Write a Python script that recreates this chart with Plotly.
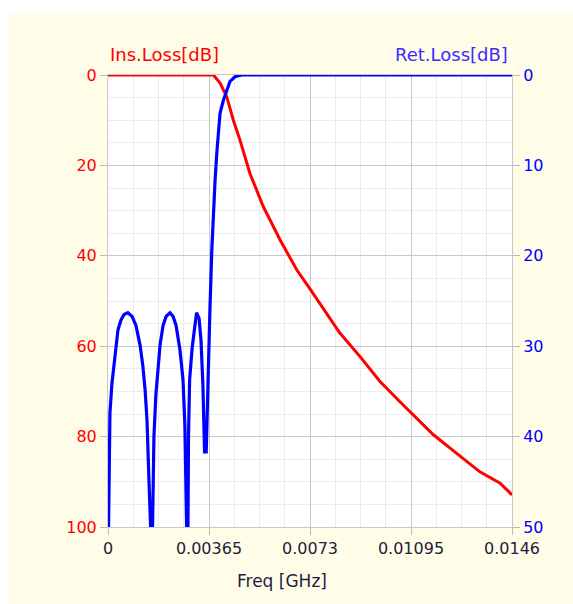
import plotly.graph_objects as go

# Return loss (blue, right axis, dB)
ret_freq = [0.00002, 0.00005, 0.00007, 0.00014, 0.00021, 0.00029, 0.00036, 0.00047, 0.00058, 0.00072,
            0.00087, 0.00101, 0.00116, 0.00126, 0.00134, 0.00141, 0.00148, 0.00154, 0.00161, 0.00166,
            0.00173, 0.00181, 0.00188, 0.00199, 0.00210, 0.00224, 0.00235, 0.00246, 0.00260, 0.00271,
            0.00278, 0.00284, 0.00289, 0.00291, 0.00295, 0.00304, 0.00311, 0.00320, 0.00329, 0.00336,
            0.00343, 0.00349, 0.00355, 0.00360, 0.00368, 0.00375, 0.00381, 0.00387, 0.00393, 0.00399,
            0.00405, 0.00417, 0.00429, 0.00441, 0.00459, 0.00483, 0.0146]
ret_loss = [50, 43.4, 37.4, 34.2, 31.9, 30.1, 28.2, 27.1, 26.5, 26.3,
            26.7, 27.7, 29.9, 32.2, 34.8, 38.2, 44.8, 50, 50, 40.0,
            35.4, 32.1, 29.9, 27.7, 26.7, 26.3, 26.7, 27.7, 30.4, 33.7,
            38.9, 50, 50, 39.8, 33.7, 30.2, 28.2, 26.3, 26.9, 29.3,
            34.3, 41.7, 41.7, 34.1, 26.3, 19.5, 15.1, 11.6, 8.7, 6.4,
            4.2, 2.8, 1.7, 0.7, 0.2, 0, 0]

# Insertion loss (red, left axis, dB)
ins_freq = [0.0, 0.00381, 0.00405, 0.00429, 0.00453, 0.00477, 0.00513, 0.00561, 0.00622, 0.00682,
            0.00733, 0.00790, 0.00838, 0.00911, 0.00983, 0.01055, 0.01096, 0.01176, 0.01260, 0.01344,
            0.01417, 0.01460]
ins_loss = [0, 0, 1.8, 4.8, 10.0, 14.4, 21.8, 29.1, 36.5, 43.1,
            47.6, 52.7, 57.1, 62.3, 67.8, 72.3, 74.8, 79.6, 83.7, 87.8,
            90.3, 92.9]

x_ticks = [0, 0.00365, 0.0073, 0.01095, 0.0146]
x_ticktext = ["0", "0.00365", "0.0073", "0.01095", "0.0146"]
left_ticks = [0, 20, 40, 60, 80, 100]
right_ticks = [0, 10, 20, 30, 40, 50]

FONT = "DejaVu Sans"
CREAM = "#FFFDE8"
MAJ = "#C8C8C8"
MIN = "#EBEBEB"

fig = go.Figure()
fig.add_trace(go.Scatter(x=ins_freq, y=ins_loss, mode="lines",
                         line=dict(color="#FF0000", width=3), yaxis="y"))
fig.add_trace(go.Scatter(x=ret_freq, y=ret_loss, mode="lines",
                         line=dict(color="#0000FF", width=3.2), yaxis="y2"))

fig.update_layout(
    width=573, height=604,
    margin=dict(l=108, r=61, t=75, b=77),
    paper_bgcolor="white", plot_bgcolor="white",
    showlegend=False,
    font=dict(family=FONT, size=16),
    xaxis=dict(range=[0, 0.0146], tickmode="array", tickvals=x_ticks, ticktext=x_ticktext,
               showgrid=True, gridcolor=MAJ, gridwidth=1, zeroline=False,
               ticks="outside", ticklen=7, tickcolor="#BBBBBB",
               tickfont=dict(color="#1E1E3C", size=16),
               showline=True, linecolor=MAJ, mirror=True,
               minor=dict(dtick=0.0009125, tick0=0, showgrid=True, gridcolor=MIN, ticks="")),
    yaxis=dict(range=[100, 0], tickmode="array", tickvals=left_ticks,
               showgrid=True, gridcolor=MAJ, zeroline=False,
               ticks="outside", ticklen=7, tickcolor="#BBBBBB",
               tickfont=dict(color="#FF0000", size=16),
               showline=True, linecolor=MAJ,
               minor=dict(dtick=5, tick0=0, showgrid=True, gridcolor=MIN, ticks="")),
    yaxis2=dict(range=[50, 0], tickmode="array", tickvals=right_ticks, overlaying="y", side="right",
                showgrid=False, zeroline=False,
                ticks="outside", ticklen=7, tickcolor="#BBBBBB",
                tickfont=dict(color="#0000FF", size=16),
                showline=True, linecolor=MAJ),
    shapes=[
        dict(type="rect", xref="paper", yref="paper", x0=-0.2475, x1=1.16, y0=-0.175, y1=1.135,
             fillcolor=CREAM, line=dict(width=0), layer="below"),
        dict(type="rect", xref="x domain", yref="y domain", x0=0, x1=1, y0=0, y1=1,
             fillcolor="white", line=dict(width=0), layer="below"),
    ],
    annotations=[
        dict(text="Ins.Loss[dB]", xref="paper", yref="paper", x=0, y=1.0, xanchor="left",
             yanchor="bottom", yshift=8, showarrow=False, font=dict(color="#FF0000", size=18)),
        dict(text="Ret.Loss[dB]", xref="paper", yref="paper", x=1, y=1.0, xanchor="right",
             yanchor="bottom", yshift=8, xshift=-2, showarrow=False, font=dict(color="#3A2EFF", size=18)),
        dict(text="Freq [GHz]", xref="paper", yref="paper", x=0.431, y=0, xanchor="center",
             yanchor="top", yshift=-42, showarrow=False, font=dict(color="#1E1E3C", size=17)),
    ],
)

fig.write_html("out.html")
